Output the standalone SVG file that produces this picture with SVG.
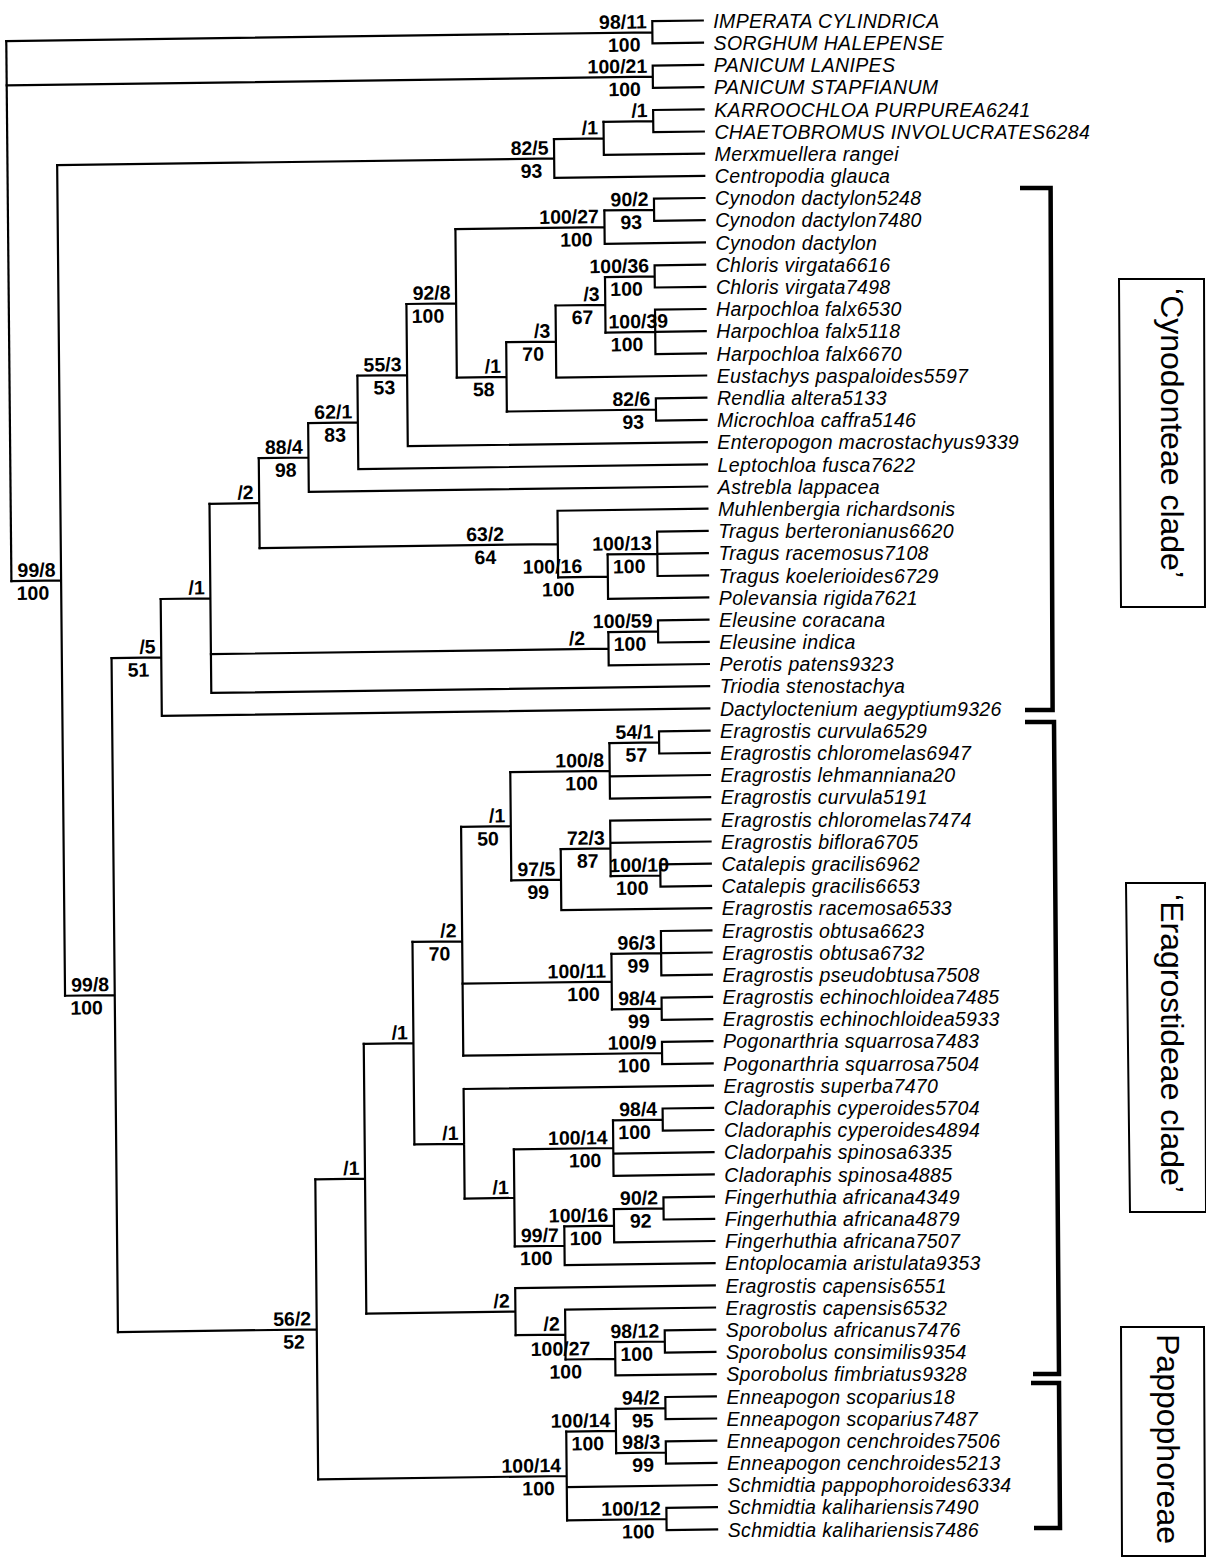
<svg xmlns="http://www.w3.org/2000/svg" width="1206" height="1558" viewBox="0 0 1206 1558">
<style>
.t{font-family:"Liberation Sans",Arial,sans-serif;font-style:italic;font-size:19.5px;letter-spacing:0.35px;fill:#000}
.s{font-family:"Liberation Sans",Arial,sans-serif;font-weight:bold;font-size:19.5px;fill:#000;text-anchor:end}
.m{text-anchor:middle}
.st{text-anchor:start}
.br{fill:none;stroke:#000;stroke-width:2.2;stroke-linecap:square}
.bk{fill:none;stroke:#000;stroke-width:4.5;stroke-linejoin:miter}
.bx{fill:none;stroke:#000;stroke-width:2}
.c{font-family:"Liberation Sans",Arial,sans-serif;font-size:32px;fill:#000;text-anchor:middle}
</style>
<rect width="1206" height="1558" fill="#fff"/>
<g transform="matrix(1,-0.0135,0.0095,1,0,1.5)">
<g id="connectors" class="br">
<path d="M5.9,39.6V579.7"/>
<path d="M5.9,39.6H652M652,28.5V50.7M652,28.5H702.5M652,50.7H702.5"/>
<path d="M5.9,84H652M652,72.9V95.1M652,72.9H702.5M652,95.1H702.5"/>
<path d="M5.9,579.7H55.6M55.6,164.4V995"/>
<path d="M55.6,164.4H552.6M552.6,145V183.8M552.6,183.8H702.5"/>
<path d="M552.6,145H602.3M602.3,128.4V161.6M602.3,161.6H702.5"/>
<path d="M602.3,128.4H652M652,117.3V139.5M652,117.3H702.5M652,139.5H702.5"/>
<path d="M55.6,995H105.3M105.3,658V1332"/>
<path d="M105.3,658H155M155,599.6V716.4M155,716.4H702.5"/>
<path d="M155,599.6H204.7M204.7,505.05V694.2M204.7,694.2H702.5"/>
<path d="M204.7,655.35H602.3M602.3,638.7V672M602.3,672H702.5"/>
<path d="M602.3,638.7H652M652,627.6V649.8M652,627.6H702.5M652,649.8H702.5"/>
<path d="M204.7,505.05H254.4M254.4,460.1V550"/>
<path d="M254.4,550H552.6M552.6,516.7V583.25M552.6,516.7H702.5"/>
<path d="M552.6,583.25H602.3M602.3,561.1V605.4M602.3,605.4H702.5"/>
<path d="M602.3,561.1H652M652,538.9V583.3M652,538.9H702.5M652,561.1H702.5M652,583.3H702.5"/>
<path d="M254.4,460.1H304.1M304.1,425.65V494.5M304.1,494.5H702.5"/>
<path d="M304.1,425.65H353.8M353.8,379V472.3M353.8,472.3H702.5"/>
<path d="M353.8,379H403.5M403.5,307.95V450.1M403.5,450.1H702.5"/>
<path d="M403.5,307.95H453.2M453.2,233.75V382.15"/>
<path d="M453.2,233.75H602.3M602.3,217.1V250.4M602.3,250.4H702.5"/>
<path d="M602.3,217.1H652M652,206V228.2M652,206H702.5M652,228.2H702.5"/>
<path d="M453.2,382.15H502.9M502.9,347.5V416.8"/>
<path d="M502.9,347.5H552.6M552.6,311.45V383.5M552.6,383.5H702.5"/>
<path d="M552.6,311.45H602.3M602.3,283.7V339.2"/>
<path d="M602.3,283.7H652M652,272.6V294.8M652,272.6H702.5M652,294.8H702.5"/>
<path d="M602.3,339.2H652M652,317V361.4M652,317H702.5M652,339.2H702.5M652,361.4H702.5"/>
<path d="M502.9,416.8H652M652,405.7V427.9M652,405.7H702.5M652,427.9H702.5"/>
<path d="M105.3,1332H304.1M304.1,1182V1481.95"/>
<path d="M304.1,1182H353.8M353.8,1047.15V1316.9"/>
<path d="M353.8,1047.15H403.5M403.5,945.9V1148.4"/>
<path d="M403.5,945.9H453.2M453.2,831.5V1060.3"/>
<path d="M453.2,831.5H502.9M502.9,777.45V885.6"/>
<path d="M502.9,777.45H602.3M602.3,749.7V805.2M602.3,783H702.5M602.3,805.2H702.5"/>
<path d="M602.3,749.7H652M652,738.6V760.8M652,738.6H702.5M652,760.8H702.5"/>
<path d="M502.9,885.6H552.6M552.6,855.05V916.1M552.6,916.1H702.5"/>
<path d="M552.6,855.05H602.3M602.3,827.3V882.8M602.3,827.3H702.5M602.3,849.5H702.5"/>
<path d="M602.3,882.8H652M652,871.7V893.9M652,871.7H702.5M652,893.9H702.5"/>
<path d="M453.2,988.25H602.3M602.3,960.5V1016"/>
<path d="M602.3,960.5H652M652,938.3V982.7M652,938.3H702.5M652,960.5H702.5M652,982.7H702.5"/>
<path d="M602.3,1016H652M652,1004.9V1027.1M652,1004.9H702.5M652,1027.1H702.5"/>
<path d="M453.2,1060.3H652M652,1049.2V1071.4M652,1049.2H702.5M652,1071.4H702.5"/>
<path d="M403.5,1148.4H453.2M453.2,1093.6V1203.2M453.2,1093.6H702.5"/>
<path d="M453.2,1203.2H502.9M502.9,1154.65V1251.7"/>
<path d="M502.9,1154.65H602.3M602.3,1126.9V1182.4M602.3,1160.2H702.5M602.3,1182.4H702.5"/>
<path d="M602.3,1126.9H652M652,1115.8V1138M652,1115.8H702.5M652,1138H702.5"/>
<path d="M502.9,1251.7H552.6M552.6,1232.35V1271.1M552.6,1271.1H702.5"/>
<path d="M552.6,1232.35H602.3M602.3,1215.7V1249M602.3,1249H702.5"/>
<path d="M602.3,1215.7H652M652,1204.6V1226.8M652,1204.6H702.5M652,1226.8H702.5"/>
<path d="M353.8,1316.9H502.9M502.9,1293.3V1340.5M502.9,1293.3H702.5"/>
<path d="M502.9,1340.5H552.6M552.6,1315.5V1365.45M552.6,1315.5H702.5"/>
<path d="M552.6,1365.45H602.3M602.3,1348.8V1382.1M602.3,1382.1H702.5"/>
<path d="M602.3,1348.8H652M652,1337.7V1359.9M652,1337.7H702.5M652,1359.9H702.5"/>
<path d="M304.1,1481.95H552.6M552.6,1437.6V1526.3M552.6,1493H702.5"/>
<path d="M552.6,1437.6H602.3M602.3,1415.4V1459.8"/>
<path d="M602.3,1415.4H652M652,1404.3V1426.5M652,1404.3H702.5M652,1426.5H702.5"/>
<path d="M602.3,1459.8H652M652,1448.7V1470.9M652,1448.7H702.5M652,1470.9H702.5"/>
<path d="M552.6,1526.3H652M652,1515.2V1537.4M652,1515.2H702.5M652,1537.4H702.5"/>
</g>
<g id="support" class="s">
<g id="n-imp"><text x="646.5" y="35.6">98/11</text><text x="640" y="58.6">100</text></g>
<g id="n-pan"><text x="646.5" y="80">100/21</text><text x="640" y="103">100</text></g>
<g id="n-kc"><text x="646.5" y="124.4">/1</text></g>
<g id="n-kcm"><text x="596.8" y="141">/1</text></g>
<g id="n-825"><text x="547.1" y="160.4">82/5</text><text x="540.6" y="183.4">93</text></g>
<g id="n-a"><text x="50.1" y="575.7">99/8</text><text x="43.6" y="598.7">100</text></g>
<g id="n-cyn2"><text x="646.5" y="213.1">90/2</text><text x="640" y="236.1">93</text></g>
<g id="n-cyn"><text x="596.8" y="229.75">100/27</text><text x="590.3" y="252.75">100</text></g>
<g id="n-j"><text x="447.7" y="303.95">92/8</text><text x="441.2" y="326.95">100</text></g>
<g id="n-chl"><text x="646.5" y="279.7">100/36</text><text x="640" y="302.7">100</text></g>
<g id="n-har"><text class="st" x="605.3" y="335.2">100/39</text><text x="640" y="358.2">100</text></g>
<g id="n-m"><text x="596.8" y="307.45">/3</text><text x="590.3" y="330.45">67</text></g>
<g id="n-l"><text x="547.1" y="343.5">/3</text><text x="540.6" y="366.5">70</text></g>
<g id="n-k"><text x="497.4" y="378.15">/1</text><text x="490.9" y="401.15">58</text></g>
<g id="n-rm"><text x="646.5" y="412.8">82/6</text><text x="640" y="435.8">93</text></g>
<g id="n-i"><text x="398" y="375">55/3</text><text x="391.5" y="398">53</text></g>
<g id="n-h"><text x="348.3" y="421.65">62/1</text><text x="341.8" y="444.65">83</text></g>
<g id="n-g"><text x="298.6" y="456.1">88/4</text><text x="292.1" y="479.1">98</text></g>
<g id="n-f"><text x="248.9" y="501.05">/2</text></g>
<g id="n-mu"><text class="m" x="480" y="546">63/2</text><text class="m" x="480" y="569">64</text></g>
<g id="n-trag"><text x="646.5" y="557.1">100/13</text><text x="640" y="580.1">100</text></g>
<g id="n-tp"><text class="m" x="547" y="579.25">100/16</text><text class="m" x="552.6" y="602.25">100</text></g>
<g id="n-e"><text x="199.2" y="595.6">/1</text></g>
<g id="n-ele"><text x="646.5" y="634.7">100/59</text><text x="640" y="657.7">100</text></g>
<g id="n-ep"><text x="579" y="651.35">/2</text></g>
<g id="n-d"><text x="149.5" y="654">/5</text><text x="143" y="677">51</text></g>
<g id="n-b"><text x="99.8" y="991">99/8</text><text x="93.3" y="1014">100</text></g>
<g id="n-c"><text x="298.6" y="1328">56/2</text><text x="292.1" y="1351">52</text></g>
<g id="n-n"><text x="348.3" y="1178">/1</text></g>
<g id="n-o"><text x="398" y="1043.15">/1</text></g>
<g id="n-r"><text x="447.7" y="941.9">/2</text><text x="441.2" y="964.9">70</text></g>
<g id="n-t"><text x="497.4" y="827.5">/1</text><text x="490.9" y="850.5">50</text></g>
<g id="n-v"><text x="596.8" y="773.45">100/8</text><text x="590.3" y="796.45">100</text></g>
<g id="n-541"><text x="646.5" y="745.7">54/1</text><text x="640" y="768.7">57</text></g>
<g id="n-w"><text x="547.1" y="881.6">97/5</text><text x="540.6" y="904.6">99</text></g>
<g id="n-x"><text x="596.8" y="851.05">72/3</text><text x="590.3" y="874.05">87</text></g>
<g id="n-cat"><text class="st" x="601" y="878.8">100/10</text><text x="640" y="901.8">100</text></g>
<g id="n-u"><text x="596.8" y="984.25">100/11</text><text x="590.3" y="1007.25">100</text></g>
<g id="n-963"><text x="646.5" y="956.5">96/3</text><text x="640" y="979.5">99</text></g>
<g id="n-984"><text x="646.5" y="1012">98/4</text><text x="640" y="1035">99</text></g>
<g id="n-pogo"><text x="646.5" y="1056.3">100/9</text><text x="640" y="1079.3">100</text></g>
<g id="n-s"><text x="447.7" y="1144.4">/1</text></g>
<g id="n-y"><text x="497.4" y="1199.2">/1</text></g>
<g id="n-z"><text x="596.8" y="1150.65">100/14</text><text x="590.3" y="1173.65">100</text></g>
<g id="n-cyp"><text x="646.5" y="1122.9">98/4</text><text x="640" y="1145.9">100</text></g>
<g id="n-aa"><text x="547.1" y="1247.7">99/7</text><text x="540.6" y="1270.7">100</text></g>
<g id="n-ab"><text x="596.8" y="1228.35">100/16</text><text x="590.3" y="1251.35">100</text></g>
<g id="n-902"><text x="646.5" y="1211.7">90/2</text><text x="640" y="1234.7">92</text></g>
<g id="n-q"><text x="497.4" y="1312.9">/2</text></g>
<g id="n-q2"><text x="547.1" y="1336.5">/2</text></g>
<g id="n-spn"><text class="m" x="547.6" y="1361.45">100/27</text><text class="m" x="552.6" y="1384.45">100</text></g>
<g id="n-spo"><text x="646.5" y="1344.8">98/12</text><text x="640" y="1367.8">100</text></g>
<g id="n-p"><text x="547.1" y="1477.95">100/14</text><text x="540.6" y="1500.95">100</text></g>
<g id="n-pa"><text x="596.8" y="1433.6">100/14</text><text x="590.3" y="1456.6">100</text></g>
<g id="n-942"><text x="646.5" y="1411.4">94/2</text><text x="640" y="1434.4">95</text></g>
<g id="n-983"><text x="646.5" y="1455.8">98/3</text><text x="640" y="1478.8">99</text></g>
<g id="n-kali"><text x="646.5" y="1522.3">100/12</text><text x="640" y="1545.3">100</text></g>
</g>
</g>
<g id="taxa" class="t">
<g id="t01"><text x="713.3" y="27.7">IMPERATA CYLINDRICA</text></g>
<g id="t02"><text x="713.6" y="49.9">SORGHUM HALEPENSE</text></g>
<g id="t03"><text x="713.8" y="72.1">PANICUM LANIPES</text></g>
<g id="t04"><text x="714" y="94.3">PANICUM STAPFIANUM</text></g>
<g id="t05"><text x="714.2" y="116.5">KARROOCHLOA PURPUREA6241</text></g>
<g id="t06"><text x="714.4" y="138.7">CHAETOBROMUS INVOLUCRATES6284</text></g>
<g id="t07"><text x="714.6" y="160.8">Merxmuellera rangei</text></g>
<g id="t08"><text x="714.8" y="183">Centropodia glauca</text></g>
<g id="t09"><text x="715" y="205.2">Cynodon dactylon5248</text></g>
<g id="t10"><text x="715.2" y="227.4">Cynodon dactylon7480</text></g>
<g id="t11"><text x="715.5" y="249.6">Cynodon dactylon</text></g>
<g id="t12"><text x="715.7" y="271.8">Chloris virgata6616</text></g>
<g id="t13"><text x="715.9" y="294">Chloris virgata7498</text></g>
<g id="t14"><text x="716.1" y="316.2">Harpochloa falx6530</text></g>
<g id="t15"><text x="716.3" y="338.4">Harpochloa falx5118</text></g>
<g id="t16"><text x="716.5" y="360.6">Harpochloa falx6670</text></g>
<g id="t17"><text x="716.7" y="382.7">Eustachys paspaloides5597</text></g>
<g id="t18"><text x="716.9" y="404.9">Rendlia altera5133</text></g>
<g id="t19"><text x="717.1" y="427.1">Microchloa caffra5146</text></g>
<g id="t20"><text x="717.3" y="449.3">Enteropogon macrostachyus9339</text></g>
<g id="t21"><text x="717.6" y="471.5">Leptochloa fusca7622</text></g>
<g id="t22"><text x="717.8" y="493.7">Astrebla lappacea</text></g>
<g id="t23"><text x="718" y="515.9">Muhlenbergia richardsonis</text></g>
<g id="t24"><text x="718.2" y="538.1">Tragus berteronianus6620</text></g>
<g id="t25"><text x="718.4" y="560.3">Tragus racemosus7108</text></g>
<g id="t26"><text x="718.6" y="582.5">Tragus koelerioides6729</text></g>
<g id="t27"><text x="718.8" y="604.6">Polevansia rigida7621</text></g>
<g id="t28"><text x="719" y="626.8">Eleusine coracana</text></g>
<g id="t29"><text x="719.2" y="649">Eleusine indica</text></g>
<g id="t30"><text x="719.5" y="671.2">Perotis patens9323</text></g>
<g id="t31"><text x="719.7" y="693.4">Triodia stenostachya</text></g>
<g id="t32"><text x="719.9" y="715.6">Dactyloctenium aegyptium9326</text></g>
<g id="t33"><text x="720.1" y="737.8">Eragrostis curvula6529</text></g>
<g id="t34"><text x="720.3" y="760">Eragrostis chloromelas6947</text></g>
<g id="t35"><text x="720.5" y="782.2">Eragrostis lehmanniana20</text></g>
<g id="t36"><text x="720.7" y="804.4">Eragrostis curvula5191</text></g>
<g id="t37"><text x="720.9" y="826.5">Eragrostis chloromelas7474</text></g>
<g id="t38"><text x="721.1" y="848.7">Eragrostis biflora6705</text></g>
<g id="t39"><text x="721.4" y="870.9">Catalepis gracilis6962</text></g>
<g id="t40"><text x="721.6" y="893.1">Catalepis gracilis6653</text></g>
<g id="t41"><text x="721.8" y="915.3">Eragrostis racemosa6533</text></g>
<g id="t42"><text x="722" y="937.5">Eragrostis obtusa6623</text></g>
<g id="t43"><text x="722.2" y="959.7">Eragrostis obtusa6732</text></g>
<g id="t44"><text x="722.4" y="981.9">Eragrostis pseudobtusa7508</text></g>
<g id="t45"><text x="722.6" y="1004.1">Eragrostis echinochloidea7485</text></g>
<g id="t46"><text x="722.8" y="1026.3">Eragrostis echinochloidea5933</text></g>
<g id="t47"><text x="723" y="1048.4">Pogonarthria squarrosa7483</text></g>
<g id="t48"><text x="723.3" y="1070.6">Pogonarthria squarrosa7504</text></g>
<g id="t49"><text x="723.5" y="1092.8">Eragrostis superba7470</text></g>
<g id="t50"><text x="723.7" y="1115">Cladoraphis cyperoides5704</text></g>
<g id="t51"><text x="723.9" y="1137.2">Cladoraphis cyperoides4894</text></g>
<g id="t52"><text x="724.1" y="1159.4">Cladorpahis spinosa6335</text></g>
<g id="t53"><text x="724.3" y="1181.6">Cladoraphis spinosa4885</text></g>
<g id="t54"><text x="724.5" y="1203.8">Fingerhuthia africana4349</text></g>
<g id="t55"><text x="724.7" y="1226">Fingerhuthia africana4879</text></g>
<g id="t56"><text x="724.9" y="1248.2">Fingerhuthia africana7507</text></g>
<g id="t57"><text x="725.1" y="1270.3">Entoplocamia aristulata9353</text></g>
<g id="t58"><text x="725.4" y="1292.5">Eragrostis capensis6551</text></g>
<g id="t59"><text x="725.6" y="1314.7">Eragrostis capensis6532</text></g>
<g id="t60"><text x="725.8" y="1336.9">Sporobolus africanus7476</text></g>
<g id="t61"><text x="726" y="1359.1">Sporobolus consimilis9354</text></g>
<g id="t62"><text x="726.2" y="1381.3">Sporobolus fimbriatus9328</text></g>
<g id="t63"><text x="726.4" y="1403.5">Enneapogon scoparius18</text></g>
<g id="t64"><text x="726.6" y="1425.7">Enneapogon scoparius7487</text></g>
<g id="t65"><text x="726.8" y="1447.9">Enneapogon cenchroides7506</text></g>
<g id="t66"><text x="727" y="1470.1">Enneapogon cenchroides5213</text></g>
<g id="t67"><text x="727.3" y="1492.2">Schmidtia pappophoroides6334</text></g>
<g id="t68"><text x="727.5" y="1514.4">Schmidtia kalihariensis7490</text></g>
<g id="t69"><text x="727.7" y="1536.6">Schmidtia kalihariensis7486</text></g>
</g>
<g id="brackets" class="bk">
<path d="M1020,188H1050.6L1052.6,710H1025"/>
<path d="M1025,722H1054L1059,1374H1033"/>
<path d="M1031,1383H1059L1060,1528H1034"/>
</g>
<g id="clade-cynodonteae">
<path class="bx" d="M1119,279L1204,279L1205,607L1121,607Z"/>
<text class="c" transform="translate(1161,433) rotate(90)">‘Cynodonteae clade’</text>
</g>
<g id="clade-eragrostideae">
<path class="bx" d="M1126,883L1205,883L1206,1212L1130,1212Z"/>
<text class="c" transform="translate(1161,1043.5) rotate(90)">‘Eragrostideae clade’</text>
</g>
<g id="clade-pappophoreae">
<path class="bx" d="M1121,1327L1204,1327L1205,1556L1122,1556Z"/>
<text class="c" transform="translate(1157,1439) rotate(90)">Pappophoreae</text>
</g>
</svg>
